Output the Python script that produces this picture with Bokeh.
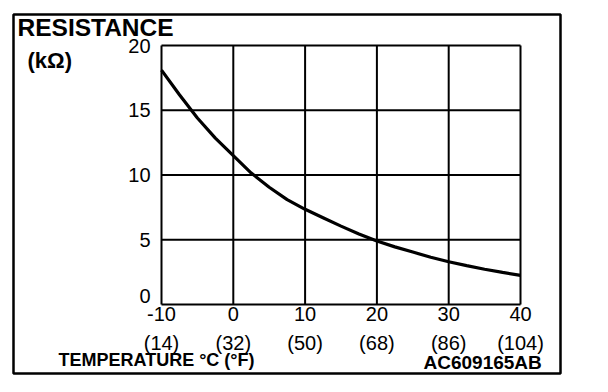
from bokeh.plotting import figure
from bokeh.models import Range1d
from bokeh.core.properties import value
from bokeh.embed import file_html
from bokeh.resources import INLINE

# ---- data ----
temp_c = [-10, -7.5, -5, -2.5, 0, 2.5, 5, 7.5, 10, 12.5, 15, 17.5, 20,
          22.5, 25, 27.5, 30, 32.5, 35, 37.5, 40]
resistance_kohm = [18.1, 16.2, 14.4, 12.85, 11.5, 10.15, 9.05, 8.1, 7.35, 6.7, 6.05,
                   5.45, 4.9, 4.45, 4.05, 3.65, 3.3, 3.0, 2.72, 2.48, 2.25]
x_ticks = [-10, 0, 10, 20, 30, 40]
c_labels = ["-10", "0", "10", "20", "30", "40"]
f_labels = ["(14)", "(32)", "(50)", "(68)", "(86)", "(104)"]
y_ticks = [0, 5, 10, 15, 20]
y_labels = ["0", "5", "10", "15", "20"]

# ---- layout (pixels) ----
W, H = 572, 384
BOX_L, BOX_T, BOX_R, BOX_B = 13, 14, 560, 373       # outer frame box
IN_L, IN_T, IN_R, IN_B = 161, 45, 520, 304           # inner plot area
X0, X1, Y0, Y1 = -10, 40, 0, 20
sx = (IN_R - IN_L) / (X1 - X0)
sy = (IN_B - IN_T) / (Y1 - Y0)

def px_x(px):
    return X0 + (px - IN_L) / sx

def px_y(py):
    return Y0 + (IN_B - py) / sy

FONT = value("Liberation Sans")
TICK_SIZE = "20px"

p = figure(width=W, height=H, output_backend="svg", toolbar_location=None,
           x_range=Range1d(px_x(BOX_L), px_x(BOX_R)),
           y_range=Range1d(px_y(BOX_B), px_y(BOX_T)),
           min_border_left=BOX_L, min_border_top=BOX_T,
           min_border_right=W - BOX_R, min_border_bottom=H - BOX_B)
p.xaxis.visible = False
p.yaxis.visible = False
p.xgrid.visible = False
p.ygrid.visible = False
p.background_fill_color = "white"
p.border_fill_color = "white"
p.outline_line_color = "black"
p.outline_line_width = 2.5
p.outline_line_alpha = 1

# grid lines of the inner plot area (at the tick values)
p.segment(x0=x_ticks, y0=[Y0] * len(x_ticks), x1=x_ticks, y1=[Y1] * len(x_ticks),
          line_color="black", line_width=2)
p.segment(x0=[X0] * len(y_ticks), y0=y_ticks, x1=[X1] * len(y_ticks), y1=y_ticks,
          line_color="black", line_width=2)

# curve
p.line(temp_c, resistance_kohm, line_color="black", line_width=3.2)

# tick labels
p.text(x=x_ticks, y=[Y0] * len(x_ticks), text=c_labels, text_font=FONT,
       text_font_size=TICK_SIZE, text_align="center", text_baseline="middle",
       y_offset=9, text_color="black")
p.text(x=x_ticks, y=[Y0] * len(x_ticks), text=f_labels, text_font=FONT,
       text_font_size=TICK_SIZE, text_align="center", text_baseline="middle",
       y_offset=38, text_color="black")
p.text(x=[X0] * (len(y_ticks) - 1), y=y_ticks[1:], text=y_labels[1:], text_font=FONT,
       text_font_size=TICK_SIZE, text_align="right", text_baseline="middle",
       x_offset=-11, text_color="black")
p.text(x=[X0], y=y_ticks[:1], text=y_labels[:1], text_font=FONT,
       text_font_size=TICK_SIZE, text_align="right", text_baseline="middle",
       x_offset=-11, y_offset=-9, text_color="black")

# titles (positioned by their vertical centre)
def lab(txt, left, center, size):
    p.text(x=[px_x(left)], y=[px_y(center)], text=[txt], text_font=FONT,
           text_font_size=size, text_font_style="bold", text_align="left",
           text_baseline="middle", text_color="black")

lab("RESISTANCE", 17, 26.5, "24.5px")
lab("(k\u03a9)", 27, 60, "22px")
lab("TEMPERATURE \u00b0C (\u00b0F)", 58, 359, "18px")
lab("AC609165AB", 423, 362, "19px")

open("out.html", "w").write(file_html(p, INLINE))
